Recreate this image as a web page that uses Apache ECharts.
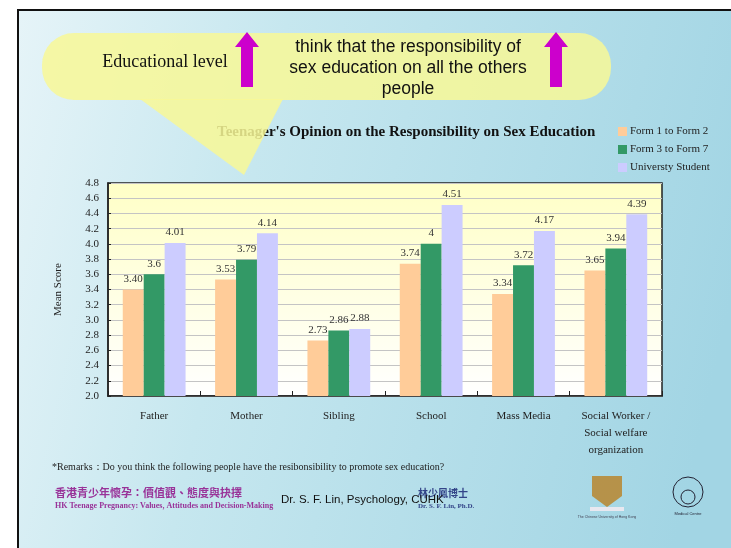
<!DOCTYPE html>
<html><head><meta charset="utf-8">
<script src="https://cdn.jsdelivr.net/npm/echarts@6/dist/echarts.min.js"></script>
<style>html,body{margin:0;padding:0;background:#fff;}#c{width:731px;height:548px;}</style>
</head><body><div id="c"></div>
<script>
var categories = ['Father', 'Mother', 'Sibling', 'School', 'Mass Media', 'Social Worker /\nSocial welfare\norganization'];
var seriesNames = ['Form 1 to Form 2', 'Form 3 to Form 7', 'Universty Student'];
var form1to2 = [3.40, 3.53, 2.73, 3.74, 3.34, 3.65];
var form3to7 = [3.6, 3.79, 2.86, 4, 3.72, 3.94];
var university = [4.01, 4.14, 2.88, 4.51, 4.17, 4.39];
var yTicks = {min: 2.0, max: 4.8, interval: 0.2};

var SERIF = '"Liberation Serif","Times New Roman",serif';
var SANS = '"Liberation Sans",Arial,sans-serif';
var colors = ['#FFCC99', '#339966', '#CCCCFF'];

var chart = echarts.init(document.getElementById('c'), null, {renderer: 'canvas'});

function mkSeries(name, data, color, fmt) {
  return {
    name: name, type: 'bar', data: data,
    barGap: '0%', barCategoryGap: '32%',
    itemStyle: {color: color},
    label: {show: true, position: 'top', distance: 5, color: '#333',
      fontFamily: SERIF, fontSize: 11, formatter: function (p) { return fmt(p.value); }}
  };
}

var option = {
  animation: false,
  color: colors,
  title: {
    text: "Teenager's Opinion on the Responsibility on Sex Education",
    left: 212, top: 120,
    textStyle: {fontFamily: SERIF, fontSize: 15, fontWeight: 'bold', color: '#111'}
  },
  legend: {
    orient: 'vertical', left: 613, top: 121,
    itemWidth: 9, itemHeight: 9, itemGap: 7,
    icon: 'rect',
    textStyle: {fontFamily: SERIF, fontSize: 11, color: '#222', padding: [0, 0, 0, -2]},
    data: seriesNames
  },
  grid: {
    left: 108, top: 183, right: 69, bottom: 152, show: true,
    borderColor: '#222', borderWidth: 1.5,
    backgroundColor: new echarts.graphic.LinearGradient(0, 0, 0, 1, [
      {offset: 0, color: '#FFFFC6'}, {offset: 1, color: '#FFFFFF'}])
  },
  xAxis: {
    type: 'category', data: categories,
    axisLine: {lineStyle: {color: '#222', width: 1.5}},
    axisTick: {show: true, inside: true, length: 5, lineStyle: {color: '#222'}},
    axisLabel: {fontFamily: SERIF, fontSize: 11, color: '#222', margin: 12, lineHeight: 17, interval: 0}
  },
  yAxis: {
    type: 'value', min: yTicks.min, max: yTicks.max, interval: yTicks.interval,
    name: 'Mean Score', nameLocation: 'middle', nameGap: 44, nameRotate: 90,
    nameTextStyle: {fontFamily: SERIF, fontSize: 11, color: '#222'},
    axisLine: {show: true, lineStyle: {color: '#222', width: 1.5}},
    axisTick: {show: true, inside: true, length: 3, lineStyle: {color: '#222'}},
    axisLabel: {fontFamily: SERIF, fontSize: 11, color: '#222', margin: 9,
      formatter: function (v) { return v.toFixed(1); }},
    splitLine: {lineStyle: {color: '#C4C4C4', width: 1}}
  },
  series: [
    mkSeries(seriesNames[0], form1to2, colors[0], function (v) { return v.toFixed(2); }),
    mkSeries(seriesNames[1], form3to7, colors[1], function (v) { return String(v); }),
    mkSeries(seriesNames[2], university, colors[2], function (v) { return v.toFixed(2); })
  ],
  graphic: [
    {type: 'rect', z: -10, silent: true, shape: {x: 18, y: 10, width: 740, height: 560},
      style: {fill: new echarts.graphic.LinearGradient(0, 0, 1, 0.3, [
        {offset: 0, color: '#E6F4F8'}, {offset: 0.35, color: '#C6E7EF'}, {offset: 1, color: '#A2D5E4'}]),
        stroke: '#111', lineWidth: 2}},
    // callout
    {type: 'rect', z: 100, silent: true, shape: {x: 42, y: 33, width: 569, height: 67, r: 32},
      style: {fill: 'rgba(248,248,150,0.85)'}},
    {type: 'polygon', z: 100, silent: true, shape: {points: [[140, 99], [283, 99], [244, 175]]},
      style: {fill: 'rgba(248,248,150,0.85)'}},
    {type: 'text', z: 101, silent: true, x: 165, y: 62,
      style: {text: 'Educational level', fontFamily: SERIF, fontSize: 18, fill: '#111',
        textAlign: 'center', textVerticalAlign: 'middle'}},
    {type: 'text', z: 101, silent: true, x: 408, y: 68,
      style: {text: 'think that the responsibility of\nsex education on all the others\npeople',
        fontFamily: SANS, fontSize: 17.5, lineHeight: 21, fill: '#111',
        textAlign: 'center', textVerticalAlign: 'middle'}},
    {type: 'polygon', z: 102, silent: true,
      shape: {points: [[247, 32], [259, 47], [253, 47], [253, 87], [241, 87], [241, 47], [235, 47]]},
      style: {fill: '#CC00CC'}},
    {type: 'polygon', z: 102, silent: true,
      shape: {points: [[556, 32], [568, 47], [562, 47], [562, 87], [550, 87], [550, 47], [544, 47]]},
      style: {fill: '#CC00CC'}},
    // remarks
    {type: 'text', silent: true, x: 52, y: 467,
      style: {text: '*Remarks\uFF1ADo you think the following people have the resibonsibility to promote sex education?',
        fontFamily: SERIF, fontSize: 10, fill: '#222', textVerticalAlign: 'middle'}},
    // footer
    {type: 'text', silent: true, x: 55, y: 493,
      style: {text: '香港青少年懷孕：價值觀、態度與抉擇', fontFamily: '"Noto Sans CJK TC"', fontSize: 11,
        fontWeight: 'bold', fill: '#993399', textVerticalAlign: 'middle'}},
    {type: 'text', silent: true, x: 55, y: 506,
      style: {text: 'HK Teenage Pregnancy: Values, Attitudes and Decision-Making', fontFamily: SERIF,
        fontSize: 8, fontWeight: 'bold', fill: '#993399', textVerticalAlign: 'middle'}},
    {type: 'text', silent: true, x: 418, y: 493,
      style: {text: '林少鳳博士', fontFamily: '"Noto Sans CJK TC"', fontSize: 10, fontWeight: 'bold',
        fill: '#334488', textVerticalAlign: 'middle'}},
    {type: 'text', silent: true, x: 418, y: 506,
      style: {text: 'Dr. S. F. Lin, Ph.D.', fontFamily: SERIF, fontSize: 7, fontWeight: 'bold',
        fill: '#334488', textVerticalAlign: 'middle'}},
    {type: 'text', silent: true, z: 50, x: 281, y: 500,
      style: {text: 'Dr. S. F. Lin, Psychology, CUHK', fontFamily: SANS, fontSize: 11.5,
        fill: '#111', textVerticalAlign: 'middle'}},
    // logos (simplified)
    {type: 'polygon', silent: true,
      shape: {points: [[592, 476], [622, 476], [622, 496], [607, 507], [592, 496]]},
      style: {fill: '#B8862E', opacity: 0.85}},
    {type: 'rect', silent: true, shape: {x: 590, y: 507, width: 34, height: 4},
      style: {fill: '#E8E8F0'}},
    {type: 'text', silent: true, x: 607, y: 517,
      style: {text: 'The Chinese University of Hong Kong', fontFamily: SANS, fontSize: 3.5, fill: '#445',
        textAlign: 'center', textVerticalAlign: 'middle'}},
    {type: 'circle', silent: true, shape: {cx: 688, cy: 492, r: 15},
      style: {fill: 'none', stroke: '#223', lineWidth: 1}},
    {type: 'circle', silent: true, shape: {cx: 688, cy: 497, r: 7},
      style: {fill: 'none', stroke: '#223', lineWidth: 1}},
    {type: 'text', silent: true, x: 688, y: 514,
      style: {text: 'Medical Centre', fontFamily: SANS, fontSize: 4, fill: '#223',
        textAlign: 'center', textVerticalAlign: 'middle'}}
  ]
};
chart.setOption(option);
</script>
</body></html>
